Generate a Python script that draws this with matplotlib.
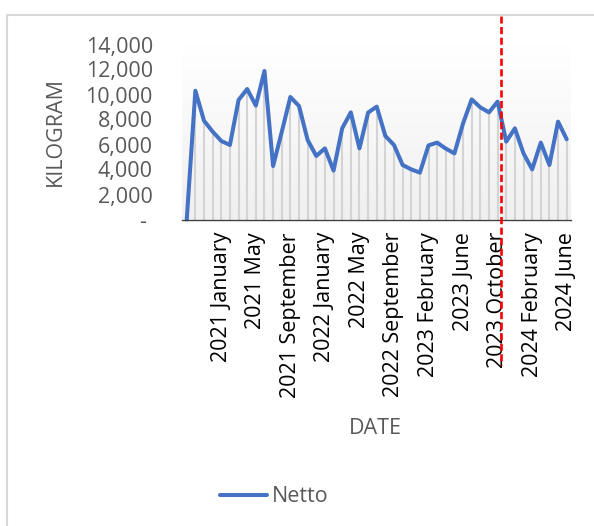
import numpy as np
import matplotlib
matplotlib.use("Agg")
import matplotlib.pyplot as plt
from matplotlib.patches import Rectangle
from matplotlib.lines import Line2D

# Datos (kg netos por mes)
months = [
    "2020 September", "2020 October", "2020 November", "2020 December",
    "2021 January", "2021 February", "2021 March", "2021 April",
    "2021 May", "2021 June", "2021 July", "2021 August",
    "2021 September", "2021 October", "2021 November", "2021 December",
    "2022 January", "2022 February", "2022 March", "2022 April",
    "2022 May", "2022 June", "2022 July", "2022 August",
    "2022 September", "2022 October", "2022 November", "2022 December",
    "2023 February", "2023 March", "2023 April", "2023 May",
    "2023 June", "2023 July", "2023 August", "2023 September",
    "2023 October", "2023 November", "2023 December", "2024 January",
    "2024 February", "2024 March", "2024 April", "2024 May",
    "2024 June",
]
netto = [
    0, 10300, 7900, 7030, 6280, 5960, 9560, 10440, 9110, 11880,
    4280, 7000, 9800, 9080, 6360, 5080, 5690, 3910, 7290, 8570,
    5690, 8550, 9030, 6680, 5960, 4360, 4010, 3750, 5930, 6150,
    5670, 5290, 7690, 9610, 8970, 8570, 9430, 6230, 7290, 5290,
    4010, 6150, 4360, 7830, 6420,
]
y_ticks = [0, 2000, 4000, 6000, 8000, 10000, 12000, 14000]
y_labels = ["- ", "2,000", "4,000", "6,000", "8,000", "10,000", "12,000", "14,000"]
marker_month = "2023 October"

plt.rcParams["font.family"] = ["Open Sans", "DejaVu Sans"]
W, H = 594, 526
fig = plt.figure(figsize=(W / 100, H / 100), dpi=100)

# marco del grafico
fig.patches.append(Rectangle((7 / W, -0.1), 1.2, 1 - 15 / H + 0.1, transform=fig.transFigure,
                             fill=False, edgecolor="#d9d9d9", linewidth=1.5))

ax = fig.add_axes([182 / W, 1 - 219.5 / H, (571 - 182) / W, 175 / H])
x = np.arange(len(netto))

# fondo con degradado
grad = np.linspace(1.0, 0.94, 100).reshape(-1, 1)
ax.imshow(np.dstack([grad, grad, grad]), extent=[0, 1, 0, 1], transform=ax.transAxes,
          aspect="auto", zorder=0, interpolation="bilinear")

ax.vlines(x, 0, netto, color="#d4d4d4", linewidth=1.5, zorder=1)
ax.plot(x, netto, color="#4472C4", linewidth=2.9, solid_joinstyle="round",
        solid_capstyle="round", zorder=3, clip_on=False, label="Netto")

ax.set_xlim(-0.55, 44.5)
ax.set_ylim(0, 14000)
for s in ["top", "right", "left"]:
    ax.spines[s].set_visible(False)
ax.spines["bottom"].set_color("#404040")
ax.spines["bottom"].set_linewidth(1.0)
ax.spines["bottom"].set_zorder(4)

ticks = list(range(4, len(months), 4))
ax.set_xticks(ticks)
ax.set_xticklabels([months[i] for i in ticks], rotation=90, fontsize=15.5, color="black")
ax.set_yticks(y_ticks)
ax.set_yticklabels(y_labels, fontsize=15.5, color="#595959")
ax.tick_params(axis="x", length=0, pad=9)
ax.tick_params(axis="y", length=0, pad=21)

# linea roja discontinua
xi = months.index(marker_month) + 0.36
ax.add_line(Line2D([xi, xi], [(219.5 - 16) / 175, (219.5 - 365) / 175], color="red",
                   linewidth=1.9, linestyle=(0, (2.7, 1.3)),
                   transform=ax.get_xaxis_transform(), clip_on=False, zorder=5))

fig.text(55 / W, 1 - 132 / H, "KILOGRAM", rotation=90, ha="center", va="center",
         fontsize=15.5, color="#595959")
fig.text(375 / W, 1 - 428 / H, "DATE", ha="center", va="center",
         fontsize=15.5, color="#595959")

leg = fig.legend(loc="center", bbox_to_anchor=(274 / W, 1 - 497 / H), frameon=False,
                 fontsize=15.5, handlelength=2.2, handletextpad=0.2)
for t in leg.get_texts():
    t.set_color("#595959")

fig.savefig("out.png", dpi=100)
